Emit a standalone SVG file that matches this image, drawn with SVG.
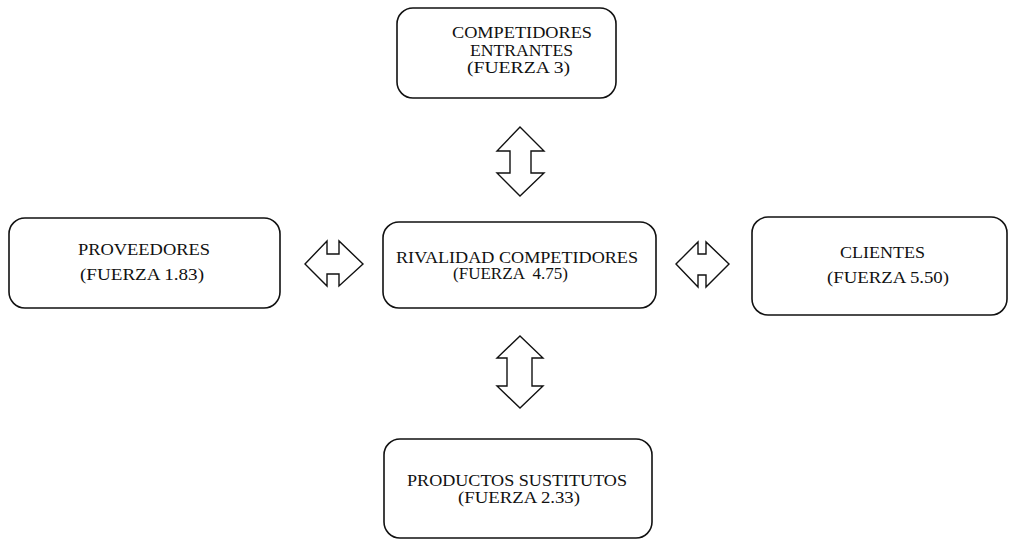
<svg xmlns="http://www.w3.org/2000/svg" width="1009" height="540" viewBox="0 0 1009 540">
  <style>
    .box { fill: #ffffff; stroke: #111111; stroke-width: 1.6; }
    .arrow { fill: #ffffff; stroke: #111111; stroke-width: 1.4; stroke-linejoin: miter; }
    .label { font-family: "Liberation Serif", "Times New Roman", serif; font-size: 16px; fill: #111111; }
  </style>
  <rect width="1009" height="540" fill="#ffffff"/>

  <!-- double-headed block arrows between the forces -->
  <g id="connectors">
    <path class="arrow" d="M520,127 L544,151 L531,151 L531,173 L544,173 L520,196 L497,173 L510,173 L510,151 L497,151 Z"/>
    <path class="arrow" d="M520,336 L543,358 L532,358 L532,386 L543,386 L520,408 L497,386 L507,386 L507,358 L497,358 Z"/>
    <path class="arrow" d="M305,264 L327,241 L327,254 L339,254 L339,241 L363,264 L339,286 L339,274 L327,274 L327,286 Z"/>
    <path class="arrow" d="M676,264 L698,242 L698,254 L706,254 L706,242 L729,264 L706,287 L706,275 L698,275 L698,287 Z"/>
  </g>

  <g id="entrantes">
    <rect class="box" x="397" y="8" width="219" height="90" rx="16"/>
    <text class="label" x="452" y="38" textLength="140" lengthAdjust="spacingAndGlyphs">COMPETIDORES</text>
    <text class="label" x="470" y="55.5" textLength="103" lengthAdjust="spacingAndGlyphs">ENTRANTES</text>
    <text class="label" x="467" y="72.5" textLength="103" lengthAdjust="spacingAndGlyphs">(FUERZA 3)</text>
  </g>

  <g id="proveedores">
    <rect class="box" x="9" y="218" width="271" height="90" rx="16"/>
    <text class="label" x="78" y="255" textLength="132" lengthAdjust="spacingAndGlyphs">PROVEEDORES</text>
    <text class="label" x="80" y="280" textLength="124" lengthAdjust="spacingAndGlyphs">(FUERZA 1.83)</text>
  </g>

  <g id="rivalidad">
    <rect class="box" x="383" y="222" width="273" height="86" rx="16"/>
    <text class="label" x="396" y="263" textLength="242" lengthAdjust="spacingAndGlyphs">RIVALIDAD COMPETIDORES</text>
    <text class="label" x="453" y="279" textLength="115" lengthAdjust="spacingAndGlyphs" xml:space="preserve">(FUERZA  4.75)</text>
  </g>

  <g id="clientes">
    <rect class="box" x="752" y="217" width="255" height="98" rx="16"/>
    <text class="label" x="840" y="258" textLength="85" lengthAdjust="spacingAndGlyphs">CLIENTES</text>
    <text class="label" x="827" y="283" textLength="122" lengthAdjust="spacingAndGlyphs">(FUERZA 5.50)</text>
  </g>

  <g id="sustitutos">
    <rect class="box" x="384" y="439" width="268" height="99" rx="16"/>
    <text class="label" x="407" y="486" textLength="220" lengthAdjust="spacingAndGlyphs">PRODUCTOS SUSTITUTOS</text>
    <text class="label" x="458" y="503" textLength="122" lengthAdjust="spacingAndGlyphs">(FUERZA 2.33)</text>
  </g>
</svg>
